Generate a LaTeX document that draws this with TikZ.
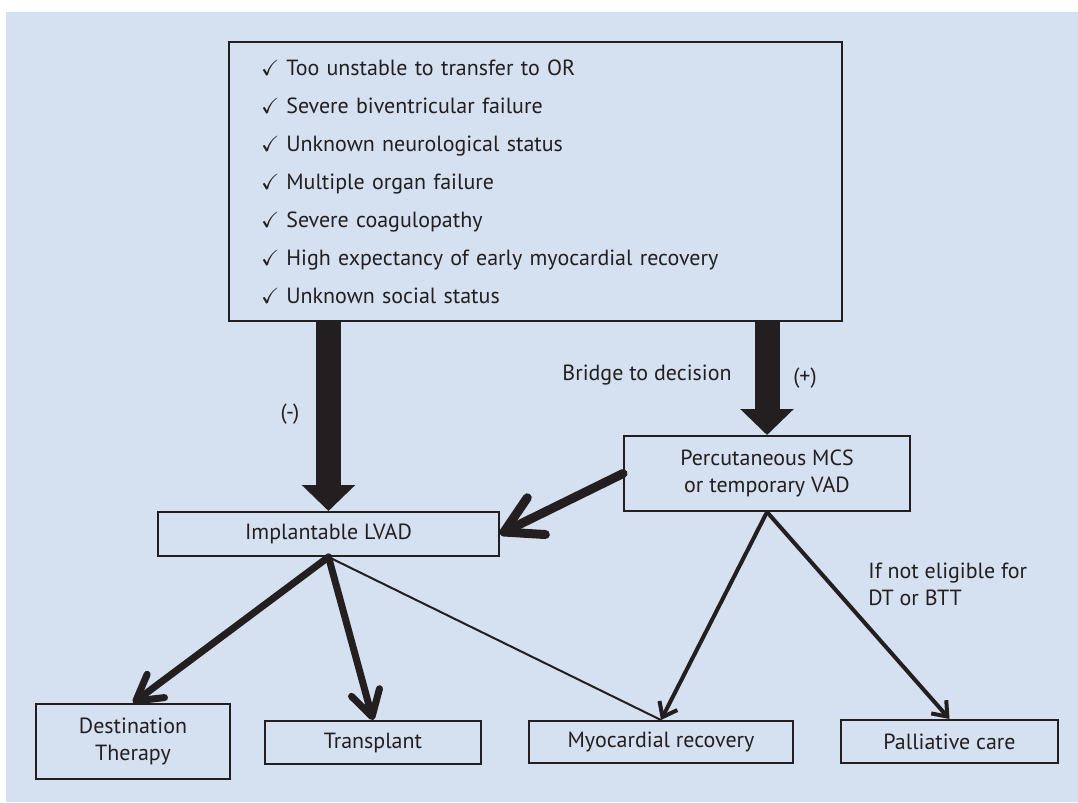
\documentclass[tikz,border=0pt]{standalone}
\usepackage{amssymb}
\usepackage{fontspec}
\setmainfont{PT Sans}
\usepackage{tikz}
\usetikzlibrary{arrows.meta, positioning}
\definecolor{fondo}{RGB}{213,224,240}
\definecolor{tinta}{RGB}{35,31,32}
\newcommand{\chk}{$\checkmark$\kern0.14cm}
\tikzset{
  caja/.style={draw=tinta, line width=0.04cm, text=tinta, align=center, inner sep=0pt,
    font=\fontsize{12.5}{15.5}\selectfont},
  etiqueta/.style={text=tinta, inner sep=0pt, font=\fontsize{12.5}{15.5}\selectfont},
  flechagorda/.style={tinta, line width=0.5cm, -{Triangle[length=0.52cm, width=1.04cm]}},
  flechagruesa/.style={tinta, line width=0.18cm, line cap=round, -{Straight Barb[length=0.72cm, width=0.82cm, round]}},
  flechamedia/.style={tinta, line width=0.14cm, line cap=round, -{Straight Barb[length=0.5cm, width=0.58cm, round]}},
  flechafina/.style={tinta, line width=0.08cm, -{Straight Barb[length=0.26cm, width=0.4cm]}},
}

\begin{document}
\begin{tikzpicture}[x=0.02cm, y=-0.02cm]
        \useasboundingbox (0,0) rectangle (1078,802);
        % Fondo
        \fill[fondo] (6,12) rectangle (1078,802);
        % Criterios
        \node[caja, minimum width=12.26cm, minimum height=5.58cm, text width=10.98cm, align=left,
          font=\fontsize{12.5}{21.6}\selectfont] (criterios) at (535.5,181.5) {%
          \chk Too unstable to transfer to OR\\
          \chk Severe biventricular failure\\
          \chk Unknown neurological status\\
          \chk Multiple organ failure\\
          \chk Severe coagulopathy\\
          \chk High expectancy of early myocardial recovery\\
          \chk Unknown social status};
        % Cajas
        \node[caja, minimum width=6.82cm, minimum height=0.88cm] (lvad) at (328.5,534) {Implantable LVAD};
        \node[caja, minimum width=5.72cm, minimum height=1.5cm] (percu) at (767,473.5) {Percutaneous MCS\\or temporary VAD};
        \node[caja, minimum width=3.88cm, minimum height=1.5cm] (destino) at (133,741.5) {Destination\\Therapy};
        \node[caja, minimum width=4.32cm, minimum height=0.86cm] (trasplante) at (373,742.5) {Transplant};
        \node[caja, minimum width=5.28cm, minimum height=0.84cm] (recupera) at (661,742) {Myocardial recovery};
        \node[caja, minimum width=4.34cm, minimum height=0.86cm] (paliativo) at (949.5,741.5) {Palliative care};
        % Etiquetas
        \node[etiqueta] (menos) at (290,414) {(-)};
        \node[etiqueta] (puente) at (647,375) {Bridge to decision};
        \node[etiqueta] (mas) at (805,378) {(+)};
        \node[etiqueta, anchor=west, align=left] (noelegible) at (868,584) {If not eligible for\\DT or BTT};
        % Flechas gordas
        \draw[flechagorda] (criterios.south -| lvad.north) -- (lvad.north);
        \draw[flechagorda] (criterios.south -| percu.north) -- (percu.north);
        \draw[flechagruesa] (percu.west) -- (lvad.east);
        % Desde LVAD
        \draw[flechamedia] (lvad.south) -- (destino.north);
        \draw[flechamedia] (lvad.south) -- (trasplante.north);
        \draw[tinta, line width=0.04cm] (lvad.south) -- (recupera.north);
        % Desde percutaneo
        \draw[flechafina] (percu.south) -- (recupera.north);
        \draw[flechafina] (percu.south) -- (paliativo.north);
    \end{tikzpicture}
\end{document}
